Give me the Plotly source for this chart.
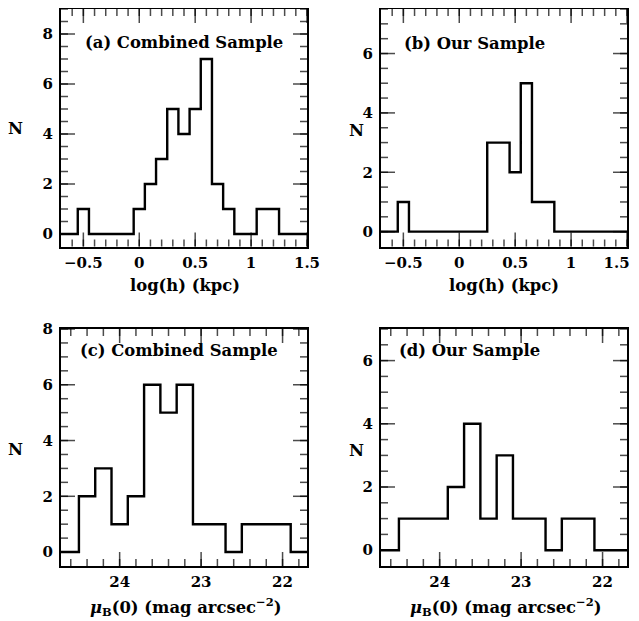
import plotly.graph_objects as go

# ---------------- data ----------------
# log(h) histograms (bin centers, width 0.1)
logh_centers = [-0.7, -0.6, -0.5, -0.4, -0.3, -0.2, -0.1, 0.0, 0.1, 0.2, 0.3, 0.4,
                0.5, 0.6, 0.7, 0.8, 0.9, 1.0, 1.1, 1.2, 1.3, 1.4, 1.5]
logh_combined = [0, 0, 1, 0, 0, 0, 0, 1, 2, 3, 5, 4, 5, 7, 2, 1, 0, 0, 1, 1, 0, 0, 0]
logh_ours = [0, 0, 1, 0, 0, 0, 0, 0, 0, 0, 3, 3, 2, 5, 1, 1, 0, 0, 0, 0, 0, 0, 0]

# central surface brightness histograms (bin centers, width 0.2)
mu_centers = [24.8, 24.6, 24.4, 24.2, 24.0, 23.8, 23.6, 23.4, 23.2, 23.0, 22.8,
              22.6, 22.4, 22.2, 22.0, 21.8, 21.6]
mu_combined = [0, 0, 2, 3, 1, 2, 6, 5, 6, 1, 1, 0, 1, 1, 1, 0, 0]
mu_ours = [0, 0, 1, 1, 1, 2, 4, 1, 3, 1, 1, 0, 1, 1, 0, 0, 0]

# ticks
logh_major = [-0.5, 0, 0.5, 1, 1.5]
logh_major_text = ["−0.5", "0", "0.5", "1", "1.5"]
logh_minor = [round(-0.6 + 0.1 * k, 1) for k in range(22)]
mu_major = [24, 23, 22]
mu_major_text = ["24", "23", "22"]
mu_minor = [round(24.6 - 0.2 * k, 1) for k in range(15)]
n_major = [0, 2, 4, 6, 8]
n_major_text = ["0", "2", "4", "6", "8"]
n_minor = [0.5 * k for k in range(19)]

panel_labels = ["(a) Combined Sample", "(b) Our Sample",
                "(c) Combined Sample", "(d) Our Sample"]
xtitle_logh = "log(h) (kpc)"
xtitle_mu = "<i>μ</i><sub>B</sub>(0) (mag arcsec<sup>−2</sup>)"
ytitle = "N"

# ---------------- layout geometry ----------------
# the page body has an 8px default margin; the figure starts 8px in
OFF = 8
W, H = 639 - OFF, 621 - OFF
FONT = "DejaVu Serif"


def px_x(p):
    return (p - OFF) / W


def px_y(p):
    return 1 - (p - OFF) / H


col_dom = [[px_x(61), px_x(307)], [px_x(381), px_x(627)]]
row_dom = [[px_y(246.5), px_y(9)], [px_y(566), px_y(329)]]

MAJOR_LEN, MINOR_LEN = 10, 5

fig = go.Figure()

# the right-hand panel's last label sits at the page edge: pad it so it stays visible
logh_text_right = logh_major_text[:-1] + [logh_major_text[-1] + "\u2007\u2007"]

panels = [
    dict(x=logh_centers, y=logh_combined, col=0, row=0, xr=[-0.7, 1.5], yr=[-0.5, 9],
         xmaj=logh_major, xtxt=logh_major_text, xmin=logh_minor),
    dict(x=logh_centers, y=logh_ours, col=1, row=0, xr=[-0.7, 1.5], yr=[-0.5, 7.5],
         xmaj=logh_major, xtxt=logh_text_right, xmin=logh_minor),
    dict(x=mu_centers, y=mu_combined, col=0, row=1, xr=[24.72, 21.7], yr=[-0.5, 8],
         xmaj=mu_major, xtxt=mu_major_text, xmin=mu_minor),
    dict(x=mu_centers, y=mu_ours, col=1, row=1, xr=[24.72, 21.7], yr=[-0.5, 7],
         xmaj=mu_major, xtxt=mu_major_text, xmin=mu_minor),
]

tickfont = dict(family=FONT, size=15, color="black", weight="bold")
frame = dict(showline=True, linecolor="black", linewidth=2, mirror=True,
             ticks="", automargin=False, showgrid=False, zeroline=False,
             tickmode="array", ticklabeloverflow="allow")

for i, p in enumerate(panels):
    n = i + 1
    xa, ya = ("x" if n == 1 else f"x{n}"), ("y" if n == 1 else f"y{n}")
    fig.add_trace(go.Scatter(x=p["x"], y=p["y"], mode="lines",
                             line=dict(shape="hvh", color="black", width=2.4),
                             xaxis=xa, yaxis=ya, showlegend=False,
                             hoverinfo="skip"))
    # inward tick marks on all four sides (half of each marker is clipped away)
    xt = p["xmin"] + p["xmaj"]
    xs = [2 * MINOR_LEN] * len(p["xmin"]) + [2 * MAJOR_LEN] * len(p["xmaj"])
    for yedge in p["yr"]:
        fig.add_trace(go.Scatter(
            x=xt, y=[yedge] * len(xt), mode="markers", xaxis=xa, yaxis=ya,
            marker=dict(symbol="line-ns", size=xs, color="black",
                        line=dict(color="black", width=1.5)),
            cliponaxis=True, showlegend=False, hoverinfo="skip"))
    yt = n_minor + n_major
    ys = [2 * MINOR_LEN] * len(n_minor) + [2 * MAJOR_LEN] * len(n_major)
    for xedge in p["xr"]:
        fig.add_trace(go.Scatter(
            x=[xedge] * len(yt), y=yt, mode="markers", xaxis=xa, yaxis=ya,
            marker=dict(symbol="line-ew", size=ys, color="black",
                        line=dict(color="black", width=1.5)),
            cliponaxis=True, showlegend=False, hoverinfo="skip"))
    fig.layout[f"xaxis{n if n > 1 else ''}"] = dict(
        domain=col_dom[p["col"]], anchor=ya, range=p["xr"],
        tickvals=p["xmaj"], ticktext=p["xtxt"], tickfont=tickfont,
        ticklabelstandoff=1, **frame)
    fig.layout[f"yaxis{n if n > 1 else ''}"] = dict(
        domain=row_dom[p["row"]], anchor=xa, range=p["yr"],
        tickvals=n_major, ticktext=n_major_text, tickfont=tickfont,
        ticklabelstandoff=3, **frame)

annfont = dict(family=FONT, size=16.4, color="black", weight="bold")
anns = []
label_pos = [(83, 42.7), (401.7, 43.3), (78.3, 350), (397.3, 350.7)]
for t, (lx, ly) in zip(panel_labels, label_pos):
    anns.append(dict(text=t, x=px_x(lx), y=px_y(ly), xref="paper", yref="paper",
                     xanchor="left", yanchor="middle", showarrow=False, font=annfont))
for (lx, ly) in [(15.5, 129), (356, 130), (15.3, 449.3), (356.5, 450)]:
    anns.append(dict(text=ytitle, x=px_x(lx), y=px_y(ly), xref="paper", yref="paper",
                     xanchor="center", yanchor="middle", showarrow=False, font=annfont))
for t, (lx, ly) in [(xtitle_logh, (184.5, 285.7)), (xtitle_logh, (504, 285.7)),
                    (xtitle_mu, (185.5, 607)), (xtitle_mu, (505, 607))]:
    anns.append(dict(text=t, x=px_x(lx), y=px_y(ly), xref="paper", yref="paper",
                     xanchor="center", yanchor="middle", showarrow=False, font=annfont))

fig.update_layout(template="none", width=W, height=H,
                  margin=dict(l=0, r=0, t=0, b=0, autoexpand=False),
                  paper_bgcolor="white", plot_bgcolor="white",
                  font=dict(family=FONT, color="black", weight="bold"),
                  annotations=anns)

fig.write_html("out.html")
